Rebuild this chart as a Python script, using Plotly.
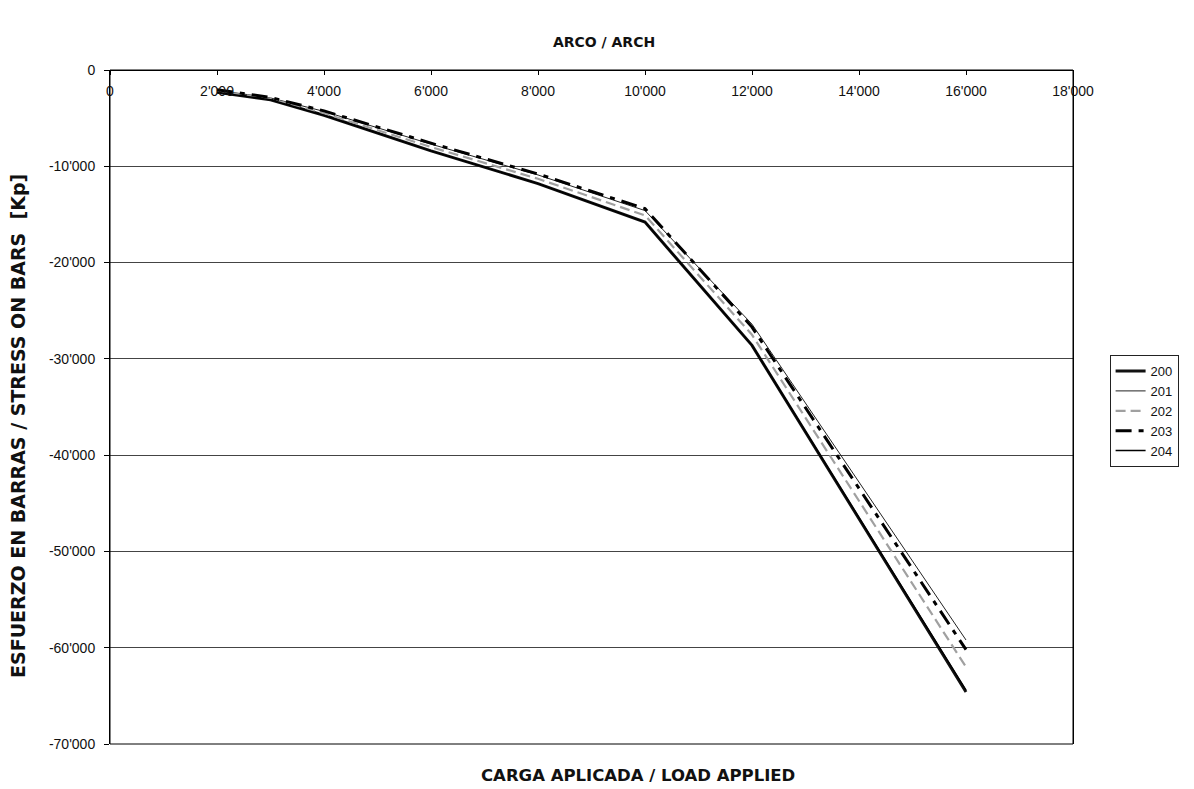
import plotly.graph_objects as go

load = [2000, 3000, 4000, 6000, 8000, 10000, 12000, 16000]
s200 = [-2300, -3100, -4700, -8400, -11800, -15800, -28600, -64600]
s201 = [-2100, -2900, -4300, -7700, -10900, -14600, -26400, -59200]
s202 = [-2200, -3000, -4500, -8000, -11300, -15100, -27500, -62000]
s203 = [-2050, -2850, -4250, -7600, -10800, -14400, -26700, -60200]
s204 = [-2300, -3100, -4700, -8400, -11800, -15800, -28600, -64400]

names = ["200", "201", "202", "203", "204"]
series = [s200, s201, s202, s203, s204]

x_ticks = [0, 2000, 4000, 6000, 8000, 10000, 12000, 14000, 16000, 18000]
x_ticktext = ["0", "2'000", "4'000", "6'000", "8'000", "10'000", "12'000", "14'000", "16'000", "18'000"]
y_ticks = [0, -10000, -20000, -30000, -40000, -50000, -60000, -70000]
y_ticktext = ["0", "-10'000", "-20'000", "-30'000", "-40'000", "-50'000", "-60'000", "-70'000"]

styles = [
    dict(color="#111111", width=3, dash="solid"),
    dict(color="#222222", width=1, dash="solid"),
    dict(color="#a0a0a0", width=2.2, dash="10px,5px"),
    dict(color="#000000", width=3, dash="16px,7px,5px,7px"),
    dict(color="#000000", width=1.5, dash="solid"),
]

fig = go.Figure()
for n, s, st in zip(names, series, styles):
    fig.add_trace(go.Scatter(x=load, y=s, name=n, mode="lines", line=st))

tick_font = "Liberation Sans, Arial, sans-serif"
title_font = "DejaVu Sans, Liberation Sans, sans-serif"
fig.update_layout(
    width=1194, height=789,
    margin=dict(l=110, r=121, t=70, b=45),
    paper_bgcolor="white", plot_bgcolor="white",
    font=dict(family=tick_font, size=14, color="#111"),
    title=dict(text="<b>ARCO / ARCH</b>", xref="paper", x=0.513, xanchor="center",
               y=1 - 42 / 789, yanchor="middle",
               font=dict(size=14, family=title_font)),
    showlegend=True,
    legend=dict(x=1.038, xanchor="left", y=0.494, yanchor="middle",
                bordercolor="#222", borderwidth=1, bgcolor="white",
                font=dict(size=13, family=tick_font), tracegroupgap=0),
    xaxis=dict(range=[0, 18000], side="bottom", anchor="free", position=1,
               tickvals=x_ticks, ticktext=x_ticktext,
               ticks="outside", ticklen=4, tickcolor="#000", ticklabelstandoff=4,
               showline=True, linecolor="#000", linewidth=1,
               showgrid=False, zeroline=False, tickfont=dict(size=14)),
    yaxis=dict(range=[-70000, 0], tickvals=y_ticks, ticktext=y_ticktext,
               ticks="outside", ticklen=5, tickcolor="#000", ticklabelstandoff=6,
               showline=True, linecolor="#000", linewidth=1, mirror=True,
               showgrid=True, gridcolor="#444", gridwidth=1, zeroline=False,
               tickfont=dict(size=14)),
    shapes=[dict(type="rect", xref="paper", yref="paper", x0=0, x1=1, y0=0, y1=1,
                 line=dict(color="#000", width=1), fillcolor="rgba(0,0,0,0)", layer="above")],
    annotations=[
        dict(text="<b>CARGA APLICADA / LOAD APPLIED</b>", xref="paper", yref="paper",
             x=0.548, y=-31 / 674, xanchor="center", yanchor="middle", showarrow=False,
             font=dict(size=16.5, family=title_font)),
        dict(text="<b>ESFUERZO EN BARRAS / STRESS ON BARS  [Kp]</b>", xref="paper", yref="paper",
             x=-92 / 963, y=(744 - 426) / 674, xanchor="center", yanchor="middle",
             textangle=-90, showarrow=False,
             font=dict(size=19, family=title_font)),
    ],
)

fig.write_html("out.html")
